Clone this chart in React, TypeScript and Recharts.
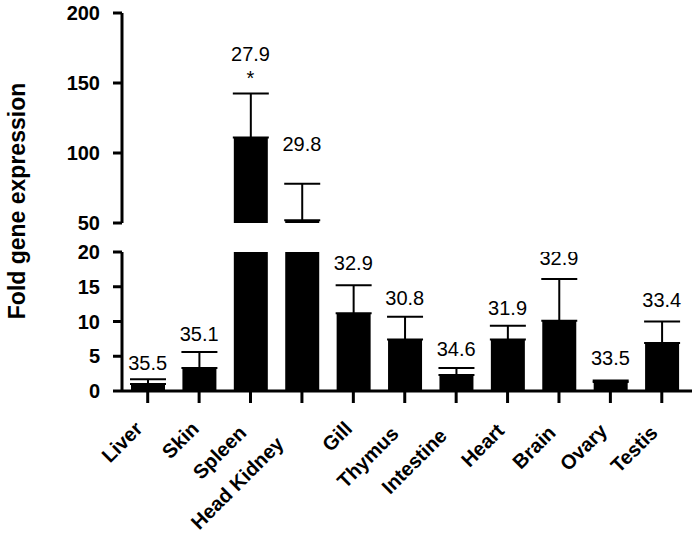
import { Bar, ComposedChart, ErrorBar, Scatter, XAxis, YAxis } from 'recharts';

const tissues = ['Liver', 'Skin', 'Spleen', 'Head Kidney', 'Gill', 'Thymus', 'Intestine', 'Heart', 'Brain', 'Ovary', 'Testis'];
const foldMean = [1.0, 3.3, 111, 52, 11.2, 7.4, 2.3, 7.4, 10.1, 1.3, 6.9];
const foldSem = [0.7, 2.3, 31.5, 26, 4.0, 3.3, 1.0, 2.0, 6.0, 0.2, 3.1];
const ctLabels = ['35.5', '35.1', '27.9', '29.8', '32.9', '30.8', '34.6', '31.9', '32.9', '33.5', '33.4'];
const starMarks = ['', '', '*', '', '', '', '', '', '', '', ''];
const lowerTicks = [0, 5, 10, 15, 20];
const upperTicks = [50, 100, 150, 200];

const LOWER_MAX = 20;
const UPPER_MIN = 50;
const UPPER_MAX = 200;

// label styling tweaks (px), not data
const ctLift = [16, 18, 40, 40, 22, 19, 19, 18, 21, 23, 22];
const tickNudge = [[-4, 0], [1, 0], [-3, 4], [-17, 15], [0, 0], [-5, 5], [-8, 7], [-2, 2], [-2, 4], [-2, 2], [-3, 4]];

const FONT = '"Liberation Sans", Arial, sans-serif';
const BLACK = '#000';

const lowerData = tissues.map((name, i) => {
  const fits = foldMean[i] <= LOWER_MAX;
  return {
    name,
    idx: i,
    mean: foldMean[i],
    err: fits ? [0, foldSem[i]] : null,
    top: fits ? foldMean[i] + foldSem[i] : null,
  };
});

const upperData = tissues.map((name, i) => {
  const fits = foldMean[i] > UPPER_MIN;
  return {
    name,
    idx: i,
    mean: fits ? foldMean[i] : null,
    err: fits ? [0, foldSem[i]] : null,
    top: fits ? foldMean[i] + foldSem[i] : null,
  };
});

function CtLabel(props: any) {
  const { cx, cy, payload } = props;
  if (payload?.top == null || cx == null || cy == null) return <g />;
  const i = payload.idx;
  const lift = ctLift[i];
  return (
    <g>
      <text x={cx} y={cy - lift + 7} textAnchor="middle" fontSize={20} fontFamily={FONT} fill={BLACK}>
        {ctLabels[i]}
      </text>
      {starMarks[i] && (
        <text x={cx} y={cy - 20 + 11} textAnchor="middle" fontSize={20} fontFamily={FONT} fill={BLACK}>
          {starMarks[i]}
        </text>
      )}
    </g>
  );
}

function TissueTick(props: any) {
  const { x, y, payload } = props;
  const i = tissues.indexOf(payload.value);
  const [dx, dy] = tickNudge[i] ?? [0, 0];
  const ax = x + dx;
  const ay = y + 25 + dy;
  return (
    <text
      x={ax}
      y={ay}
      textAnchor="end"
      transform={`rotate(-45, ${ax}, ${ay})`}
      fontSize={20}
      fontWeight={700}
      fontFamily={FONT}
      fill={BLACK}
    >
      {payload.value}
    </text>
  );
}

const yTick = { fill: BLACK, fontSize: 20, fontWeight: 700, fontFamily: FONT };
const axisStroke = { stroke: BLACK, strokeWidth: 3 };

export default function App() {
  return (
    <div style={{ position: 'relative', width: 694, height: 556, background: '#fff' }}>
      <style>{'body{margin:0}'}</style>

      <div style={{ position: 'absolute', left: 0, top: 0 }}>
        <ComposedChart width={694} height={556} data={lowerData} margin={{ top: 252, right: 2, bottom: 0, left: 0 }}>
          <XAxis
            dataKey="name"
            interval={0}
            height={165}
            padding={{ left: 0, right: 4.5 }}
            stroke={BLACK}
            axisLine={axisStroke}
            tickLine={axisStroke}
            tickSize={12}
            tick={<TissueTick />}
          />
          <YAxis
            width={122}
            domain={[0, LOWER_MAX]}
            ticks={lowerTicks}
            allowDataOverflow
            stroke={BLACK}
            axisLine={axisStroke}
            tickLine={axisStroke}
            tickSize={9}
            tickMargin={13}
            tick={yTick}
          />
          <Bar dataKey="mean" fill={BLACK} barSize={34} isAnimationActive={false}>
            <ErrorBar dataKey="err" width={18} stroke={BLACK} strokeWidth={2} direction="y" />
          </Bar>
          <Scatter dataKey="top" shape={<CtLabel />} isAnimationActive={false} />
        </ComposedChart>
      </div>

      <div style={{ position: 'absolute', left: 0, top: 0 }}>
        <ComposedChart width={694} height={240} data={upperData} margin={{ top: 13, right: 2, bottom: 17, left: 0 }}>
          <XAxis dataKey="name" hide padding={{ left: 0, right: 4.5 }} />
          <YAxis
            width={122}
            domain={[UPPER_MIN, UPPER_MAX]}
            ticks={upperTicks}
            allowDataOverflow
            stroke={BLACK}
            axisLine={axisStroke}
            tickLine={axisStroke}
            tickSize={9}
            tickMargin={13}
            tick={yTick}
          />
          <Bar dataKey="mean" fill={BLACK} barSize={34} isAnimationActive={false}>
            <ErrorBar dataKey="err" width={18} stroke={BLACK} strokeWidth={2} direction="y" />
          </Bar>
          <Scatter dataKey="top" shape={<CtLabel />} isAnimationActive={false} />
        </ComposedChart>
      </div>

      <svg width={694} height={556} style={{ position: 'absolute', left: 0, top: 0, pointerEvents: 'none' }}>
        <text
          x={25}
          y={201}
          transform="rotate(-90, 25, 201)"
          textAnchor="middle"
          fontSize={23}
          fontWeight={700}
          fontFamily={FONT}
          fill={BLACK}
        >
          Fold gene expression
        </text>
      </svg>
    </div>
  );
}
